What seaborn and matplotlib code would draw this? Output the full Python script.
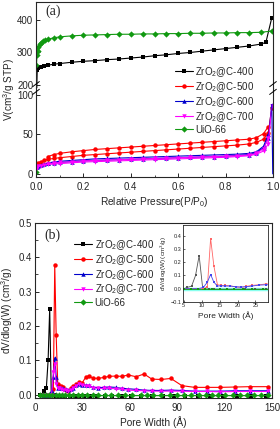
import matplotlib
matplotlib.use("Agg")
import matplotlib.pyplot as plt
from matplotlib.ticker import MultipleLocator
import seaborn as sns

# ---- (a) N2 isotherms ----
series = ["ZrO$_2$@C-400", "ZrO$_2$@C-500", "ZrO$_2$@C-600", "ZrO$_2$@C-700", "UiO-66"]
colors = ["black", "red", "#0000cc", "magenta", "#119911"]
markers = ["s", "o", "^", "v", "D"]

p400 = [0.001, 0.005, 0.01, 0.02, 0.035, 0.05, 0.075, 0.1, 0.15, 0.2, 0.25, 0.3, 0.35, 0.4,
        0.45, 0.5, 0.55, 0.6, 0.65, 0.7, 0.75, 0.8, 0.85, 0.9, 0.95, 0.97, 0.995]
v400 = [120, 245, 252, 256, 259, 261, 264, 266, 270, 273, 275, 278, 280, 283,
        286, 290, 293, 297, 300, 304, 308, 312, 316, 320, 326, 331, 407]

p66 = [0.0003, 0.002, 0.004, 0.007, 0.01, 0.015, 0.02, 0.03, 0.04, 0.05, 0.075, 0.1, 0.15,
       0.2, 0.25, 0.3, 0.35, 0.4, 0.45, 0.5, 0.55, 0.6, 0.65, 0.7, 0.75, 0.8, 0.85, 0.9, 0.95, 0.995]
v66 = [2, 262, 292, 306, 318, 325, 330, 335, 338, 341, 345, 348, 351,
       353, 354, 355, 356, 356, 357, 357, 358, 358, 359, 359, 360, 360, 361, 361, 362, 366]

# adsorption / desorption pressure grids
p_ads = [0.003, 0.01, 0.02, 0.035, 0.05, 0.075, 0.1, 0.15, 0.2, 0.25, 0.3, 0.35, 0.4, 0.45,
         0.5, 0.55, 0.6, 0.65, 0.7, 0.75, 0.8, 0.85, 0.9, 0.93, 0.96, 0.98, 0.995]
p_des = [0.98, 0.96, 0.93, 0.9, 0.85, 0.8, 0.75, 0.7, 0.65, 0.6, 0.55, 0.5, 0.45, 0.4,
         0.35, 0.3, 0.25, 0.2, 0.15, 0.1, 0.075, 0.05]

v500_ads = [12, 14, 15.5, 17, 18.5, 19.5, 20.5, 22, 23.5, 24.5, 25.5, 26.5, 27.5, 28.5,
            29.5, 30.5, 31.5, 32.5, 33.5, 34.5, 35.5, 36.5, 38, 40, 44, 52, 84]
v500_des = [60, 51, 46, 44, 43, 42, 41, 40, 39, 38, 37, 36, 35, 34,
            33, 32, 31, 29.5, 28, 26, 24.5, 22]

v600_ads = [9, 10.5, 11.5, 12.5, 13.5, 14, 14.5, 15.5, 16.5, 17, 17.5, 18, 18.5, 19,
            19.5, 20, 20.5, 21, 21.5, 22, 22.5, 23.5, 24.5, 27, 33, 45, 88]
v600_des = [50, 35, 28, 26, 25, 24.5, 24, 23.5, 23, 22.5, 22, 21.5, 21, 20.5,
            20, 19.5, 19, 18, 17, 16, 15, 14]
p600_drop = [0.995, 0.999]
v600_drop = [88, 0]

v700_ads = [8, 9.5, 10.5, 11.5, 12, 12.5, 13, 14, 15, 15.5, 16, 16.5, 17, 17.5,
            18, 18.5, 19, 19.5, 20, 20.5, 21, 22, 23, 25, 29, 38, 86]
v700_des = [45, 32, 26, 24, 23, 22.5, 22, 21.5, 21, 20.5, 20, 19.5, 19, 18.5,
            18, 17.5, 17, 16.5, 15.5, 14.5, 13.5, 12.5]

# ---- (b) pore size distribution ----
w400 = [3, 5, 6, 7.2, 8.3, 9.3, 10.3, 11, 12, 13.5, 15, 17, 19, 22, 25, 28, 31, 35, 39, 44,
        49, 55, 61, 67, 74, 81, 88, 95, 103, 111, 119, 128, 137, 146]
d400 = [0, 0, 0.01, 0.02, 0.1, 0.25, 0.0, -0.002, -0.002, -0.003, -0.003, -0.003, -0.003, -0.003,
        -0.003, -0.003, -0.003, -0.003, -0.003, -0.003, -0.003, -0.003, -0.003, -0.003, -0.003,
        -0.003, -0.003, -0.003, -0.003, -0.003, -0.003, -0.003, -0.003, -0.003]

w_psd = [5, 7, 9, 10.5, 11.6, 12.5, 13.4, 14.4, 15.5, 16.5, 18, 19.5, 21, 22.5, 24, 26, 28, 30,
         32, 34, 36.5, 40, 43.5, 47, 51, 55, 59, 64, 69, 74, 80, 86, 93, 101, 109, 117, 126.5,
         136, 147.5]
d500 = [0, 0, 0, 0, 0.015, 0.378, 0.173, 0.03, 0.025, 0.025, 0.022, 0.013, 0.01, 0.018, 0.025,
        0.03, 0.036, 0.035, 0.05, 0.055, 0.048, 0.047, 0.05, 0.053, 0.054, 0.053, 0.057, 0.052,
        0.06, 0.045, 0.044, 0.047, 0.026, 0.021, 0.021, 0.021, 0.022, 0.023, 0.023]
d600 = [0, 0, 0, 0.01, 0.05, 0.107, 0.05, 0.02, 0.022, 0.02, 0.02, 0.015, 0.013, 0.015, 0.02,
        0.027, 0.03, 0.028, 0.028, 0.027, 0.021, 0.02, 0.021, 0.022, 0.021, 0.018, 0.017, 0.015,
        0.013, 0.012, 0.012, 0.013, 0.012, 0.01, 0.01, 0.01, 0.011, 0.011, 0.011]
d700 = [0, 0, 0, 0.0, 0.065, 0.09, 0.03, 0.02, 0.018, 0.016, 0.014, 0.012, 0.01, 0.012, 0.018,
        0.025, 0.032, 0.028, 0.025, 0.024, 0.02, 0.018, 0.018, 0.018, 0.017, 0.015, 0.013, 0.012,
        0.011, 0.01, 0.01, 0.01, 0.01, 0.009, 0.009, 0.008, 0.009, 0.009, 0.009]
w66 = [3, 5, 7, 9, 11, 13, 15, 17, 19, 21.5, 24, 27, 30, 33, 36.5, 40, 44, 48, 52.5, 57, 61.5,
       66.8, 71, 74.8, 80, 85.4, 90, 94.3, 99, 103.8, 108, 111.9, 116, 120.3, 125, 129.9, 134,
       138.8, 143, 147.7]
d66 = [0, 0, 0, 0, 0, 0, 0, 0, 0, 0, 0, 0, 0, 0, 0, 0, 0, 0, 0, 0, 0,
       0, 0, 0, 0, 0, 0, 0, 0, 0, 0, 0, 0, 0, 0, 0, 0, 0, 0, 0]

sns.set_style("ticks")
plt.rcParams["font.family"] = ["Liberation Sans", "DejaVu Sans"]
plt.rcParams["xtick.direction"] = "in"
plt.rcParams["ytick.direction"] = "in"
plt.rcParams["axes.linewidth"] = 0.8
plt.rcParams["mathtext.default"] = "regular"

fig = plt.figure(figsize=(2.8, 4.29), dpi=100)
W, H = 280.0, 429.0


def rect(x0, y0, x1, y1):
    return [x0 / W, 1 - y1 / H, (x1 - x0) / W, (y1 - y0) / H]


axU = fig.add_axes(rect(36, 2, 273, 88))
axL = fig.add_axes(rect(36, 88, 273, 177))
axB = fig.add_axes(rect(35, 223, 272, 398))
axI = fig.add_axes(rect(183, 225, 268, 302))

kw = dict(sort=False, estimator=None, linewidth=0.8, markersize=3.2, markeredgewidth=0)

iso = [
    (p400, v400, None, None),
    (p_ads, v500_ads, p_des, v500_des),
    (p_ads, v600_ads, p_des, v600_des),
    (p_ads, v700_ads, p_des, v700_des),
    (p66, v66, None, None),
]
for ax in (axU, axL):
    for i, (pa, va, pd_, vd) in enumerate(iso):
        sns.lineplot(x=pa, y=va, color=colors[i], marker=markers[i], label=series[i],
                     ax=ax, legend=False, **kw)
        if pd_ is not None:
            sns.lineplot(x=pd_, y=vd, color=colors[i], marker=markers[i], ax=ax,
                         legend=False, **kw)
    sns.lineplot(x=p600_drop, y=v600_drop, color=colors[2], ax=ax, legend=False,
                 sort=False, estimator=None, linewidth=0.8)
    ax.set_xlim(0, 1.0)
    ax.set_ylabel("")

axU.set_ylim(191, 455)
axL.set_ylim(-4, 109)
axU.spines["bottom"].set_visible(False)
axL.spines["top"].set_visible(False)
axU.tick_params(axis="x", which="both", bottom=False, labelbottom=False)
axU.set_yticks([200, 300, 400])
axL.set_yticks([0, 50, 100])
axL.set_xticks([0.0, 0.2, 0.4, 0.6, 0.8, 1.0])
axL.xaxis.set_minor_locator(MultipleLocator(0.1))
for ax in (axU, axL):
    ax.tick_params(labelsize=7, length=3, width=0.7, pad=2)
    ax.tick_params(which="minor", length=1.8, width=0.6)
axL.tick_params(axis="x", pad=3.5)
axL.set_xlabel("Relative Pressure(P/P$_0$)", fontsize=7.3, labelpad=2)
fig.text(0.032, 1 - 90 / H, "V(cm$^3$/g STP)", rotation=90, fontsize=7.2,
         ha="center", va="center")
axU.text(0.04, 0.97, "(a)", transform=axU.transAxes, fontsize=10, va="top",
         family=["Liberation Serif", "DejaVu Serif"])

# break marks
d = 0.012
for xx in (0, 1):
    for dy in (-0.009, 0.009):
        fig.lines.append(plt.Line2D([(36 + xx * 237) / W - d, (36 + xx * 237) / W + d],
                                    [1 - 88 / H + dy - 0.006, 1 - 88 / H + dy + 0.006],
                                    color="black", lw=0.7, transform=fig.transFigure))

hA, lA = axL.get_legend_handles_labels()
fig.legend(hA, lA, loc="upper left", bbox_to_anchor=(0.625, 1 - 65 / H), frameon=False,
           fontsize=7, borderpad=0, borderaxespad=0, handlelength=1.8, handletextpad=0.3,
           labelspacing=0.12)

# ---- (b) ----
psd = [(w400, d400), (w_psd, d500), (w_psd, d600), (w_psd, d700), (w66, d66)]
for i, (w, dv) in enumerate(psd):
    sns.lineplot(x=w, y=dv, color=colors[i], marker=markers[i], label=series[i], ax=axB,
                 legend=False, **kw)
axB.set_xlim(0, 150)
axB.set_ylim(-0.01, 0.5)
axB.set_xticks([0, 30, 60, 90, 120, 150])
axB.set_yticks([0.0, 0.1, 0.2, 0.3, 0.4, 0.5])
axB.xaxis.set_minor_locator(MultipleLocator(15))
axB.yaxis.set_minor_locator(MultipleLocator(0.05))
axB.tick_params(labelsize=7, length=3, width=0.7, pad=2)
axB.tick_params(axis="x", pad=3.5)
axB.tick_params(which="minor", length=1.8, width=0.6)
axB.set_xlabel("Pore Width (Å)", fontsize=7.3, labelpad=2)
axB.set_ylabel("dV/dlog(W) (cm$^3$/g)", fontsize=7.2, labelpad=3)
axB.text(0.04, 0.97, "(b)", transform=axB.transAxes, fontsize=10, va="top",
         family=["Liberation Serif", "DejaVu Serif"])
hB, lB = axB.get_legend_handles_labels()
axB.legend(hB, lB, loc="upper left", bbox_to_anchor=(0.265, 1 - 238 / H),
           bbox_transform=fig.transFigure, frameon=False, fontsize=7, borderpad=0,
           borderaxespad=0, handlelength=1.8, handletextpad=0.3, labelspacing=0.12)

# inset
light = ["#555555", "#ff6666", "#4444ee", "magenta", "#119911"]
ikw = dict(sort=False, estimator=None, linewidth=0.6, markersize=1.6, markeredgewidth=0)
sns.lineplot(x=w66, y=d66, color="#88ffee", linewidth=2.5, ax=axI, legend=False,
             sort=False, estimator=None)
for i, (w, dv) in enumerate(psd):
    if i == 3:
        continue
    sns.lineplot(x=w, y=dv, color=light[i], marker="s", ax=axI, legend=False, **ikw)
axI.set_xlim(4.8, 28.5)
axI.set_ylim(-0.1, 0.48)
axI.set_xticks([5, 10, 15, 20, 25])
axI.set_yticks([-0.1, 0.0, 0.1, 0.2, 0.3, 0.4])
axI.tick_params(labelsize=4, length=1.5, width=0.5, pad=1)
for s in axI.spines.values():
    s.set_linewidth(0.6)
axI.set_xlabel("Pore Width (Å)", fontsize=6, labelpad=2)
axI.set_ylabel("dV/dlog(W) (cm$^3$/g)", fontsize=4.5, labelpad=1)

fig.savefig("out.png", dpi=100)
